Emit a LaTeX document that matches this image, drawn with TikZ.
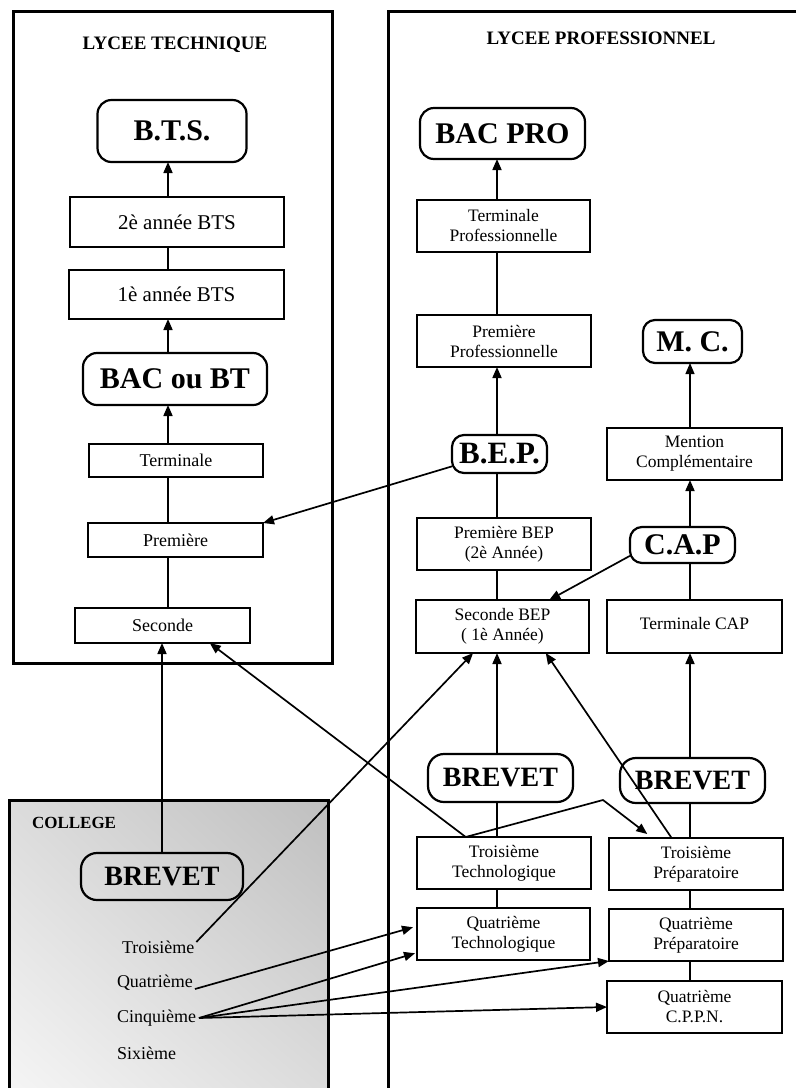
\documentclass[tikz,border=0pt]{standalone}
\usepackage{fontspec}
\setmainfont{Liberation Serif}
\usetikzlibrary{arrows.meta,calc,shadings}
\begin{document}
\begin{tikzpicture}[x=1pt,y=-1pt,
  every node/.style={inner sep=0pt, outer sep=0pt},
  sz/.style 2 args={minimum width=#1pt, minimum height=#2pt},
  box/.style={draw, line width=1.3pt, align=center, font=\fontsize{17.5}{20}\selectfont},
  sbox/.style={box, font=\fontsize{18}{20}\selectfont},
  lbox/.style={box, font=\fontsize{21}{24}\selectfont},
  big/.style={draw, line width=2.2pt, rounded corners=14pt, font=\fontsize{30}{32}\selectfont\bfseries},
  conn/.style={line width=1.7pt},
  thinconn/.style={line width=1.1pt},
  arr/.style={conn, -{Triangle[length=11pt,width=9pt]}},
  lbl/.style={font=\fontsize{18}{20}\selectfont, anchor=west},
  ttl/.style={font=\fontsize{19}{21}\selectfont\bfseries},
  panel/.style={line width=3pt},
]
\useasboundingbox (0,0) rectangle (796,1088);

% panels
\draw[panel] (13,11) rectangle (332,663);
\draw[panel] (796,11) -- (388,11) -- (388,1088);
\shade[upper left=gray!28, upper right=gray!50, lower left=gray!8, lower right=gray!28] (9,800) rectangle (328,1088);
\draw[panel] (9,1088) -- (9,800) -- (328,800) -- (328,1088);

\node[ttl] (tlt) at (175,45) {LYCEE TECHNIQUE};
\node[ttl] (tlp) at (601,38) {LYCEE PROFESSIONNEL};
\node[lbl, font=\fontsize{17}{20}\selectfont\bfseries] (tcol) at (32,823) {COLLEGE};

% Lycee technique
\node[big, sz={149}{62}] (bts) at (172,131) {B.T.S.};
\node[lbox, sz={214}{50}] (bts2) at (177,222) {2è année BTS};
\node[lbox, sz={215}{49}] (bts1) at (176.5,294.5) {1è année BTS};
\node[big, sz={184}{52}] (bac) at (175,379) {BAC ou BT};
\node[sbox, sz={174}{33}] (term) at (176,460.5) {Terminale};
\node[sbox, sz={175}{34}] (prem) at (175.5,540) {Première};
\node[sbox, sz={175}{35}] (sec) at (162.5,625.5) {Seconde};

% Lycee professionnel, column A
\node[big, sz={165}{51}] (bacpro) at (502.5,133.5) {BAC PRO};
\node[box, sz={173}{52}] (tpro) at (503.5,226) {Terminale\\Professionnelle};
\node[box, sz={174}{52}] (ppro) at (504,341) {Première\\Professionnelle};
\node[big, sz={95}{38}, rounded corners=12pt, font=\fontsize{31}{32}\selectfont\bfseries] (bep) at (499.5,454) {B.E.P.};
\node[box, sz={174}{52}] (pbep) at (504,544) {Première BEP\\(2è Année)};
\node[box, sz={173}{53}] (sbep) at (502.5,626.5) {Seconde BEP\\( 1è Année)};
\node[big, sz={145}{48}, rounded corners=16pt, font=\fontsize{28}{30}\selectfont\bfseries] (brevetA) at (500.5,778) {BREVET};
\node[box, sz={174}{52}] (ttech) at (504,863) {Troisième\\Technologique};
\node[box, sz={173}{52}] (qtech) at (503.5,934) {Quatrième\\Technologique};

% column B
\node[big, sz={99}{43}, rounded corners=12pt] (mc) at (692.5,341.5) {M. C.};
\node[box, sz={175}{52}] (ment) at (694.5,454) {Mention\\Complémentaire};
\node[big, sz={105}{36}, rounded corners=12pt] (cap) at (682.5,545) {C.A.P};
\node[box, sz={175}{53}] (tcap) at (694.5,626.5) {\raisebox{7pt}{Terminale CAP}};
\node[big, sz={145}{45}, rounded corners=16pt, font=\fontsize{28}{30}\selectfont\bfseries] (brevetB) at (692.5,780.5) {BREVET};
\node[box, sz={174}{52}] (tprep) at (696,864) {Troisième\\Préparatoire};
\node[box, sz={174}{52}] (qprep) at (696,935) {Quatrième\\Préparatoire};
\node[box, sz={175}{52}] (cppn) at (694.5,1007) {Quatrième\\C.P.P.N.};

% college
\node[big, sz={162}{47}, rounded corners=16pt, font=\fontsize{28}{30}\selectfont\bfseries] (brevetC) at (162,876.5) {BREVET};
\node[lbl] (c3) at (122,947) {Troisième};
\node[lbl] (c4) at (117,983) {Quatrième};
\node[lbl] (c5) at (117,1018) {Cinquième};
\node[lbl] (c6) at (117,1053) {Sixième};

% vertical chains
\coordinate (ltx) at (168,0);
\coordinate (colA) at (497,0);
\coordinate (colB) at (690,0);
\draw[arr] (bts2.north -| ltx) -- (bts.south -| ltx);
\draw[conn] (bts1.north -| ltx) -- (bts2.south -| ltx);
\draw[arr] (bac.north -| ltx) -- (bts1.south -| ltx);
\draw[arr] (term.north -| ltx) -- (bac.south -| ltx);
\draw[conn] (prem.north -| ltx) -- (term.south -| ltx);
\draw[thinconn] (sec.north -| ltx) -- (prem.south -| ltx);
\draw[arr] (brevetC.north) -- (brevetC.north |- sec.south);

\draw[arr] (tpro.north -| colA) -- (bacpro.south -| colA);
\draw[conn] (ppro.north -| colA) -- (tpro.south -| colA);
\draw[arr] (bep.north -| colA) -- (ppro.south -| colA);
\draw[conn] (pbep.north -| colA) -- (bep.south -| colA);
\draw[conn] (sbep.north -| colA) -- (pbep.south -| colA);
\draw[arr] (brevetA.north -| colA) -- (sbep.south -| colA);
\draw[conn] (ttech.north -| colA) -- (brevetA.south -| colA);
\draw[thinconn] (qtech.north -| colA) -- (ttech.south -| colA);

\draw[thinconn, -{Triangle[length=11pt,width=9pt]}] (ment.north -| colB) -- (mc.south -| colB);
\draw[arr] (cap.north -| colB) -- (ment.south -| colB);
\draw[conn] (tcap.north -| colB) -- (cap.south -| colB);
\draw[arr] (brevetB.north -| colB) -- (tcap.south -| colB);
\draw[conn] (tprep.north -| colB) -- (brevetB.south -| colB);
\draw[conn] (qprep.north -| colB) -- (tprep.south -| colB);
\draw[conn] (cppn.north -| colB) -- (qprep.south -| colB);

% crossing connectors
\draw[arr] ($(bep.south west)!0.35!(bep.west)$) -- (prem.north east);
\draw[arr] ($(cap.south west)!0.4!(cap.west)$) -- ($(sbep.north west)!0.77!(sbep.north east)$);
\draw[arr] ($(ttech.north west)!0.28!(ttech.north east)$) -- ($(sec.south west)!0.77!(sec.south east)$);
\draw[arr] ($(ttech.north west)!0.28!(ttech.north east)$) -- (603,800) -- ($(tprep.north west)!0.22!(tprep.north east)+(0,-4)$);
\draw[arr] ($(tprep.north west)!0.36!(tprep.north east)$) -- ($(sbep.south west)!0.75!(sbep.south east)$);
\draw[arr] ($(c3.east)+(2,-5)$) -- ($(sbep.south west)!0.33!(sbep.south east)$);
\draw[arr] ($(c4.east)+(2,6)$) -- ($(qtech.north west)!0.37!(qtech.south west)+(-4,0)$);
\draw[arr] ($(c5.east)+(3,0)$) -- ($(qtech.north west)!0.87!(qtech.south west)+(-2,0)$);
\draw[arr] ($(c5.east)+(3,0)$) -- (qprep.south west);
\draw[arr] ($(c5.east)+(3,0)$) -- (cppn.west);
\end{tikzpicture}
\end{document}
